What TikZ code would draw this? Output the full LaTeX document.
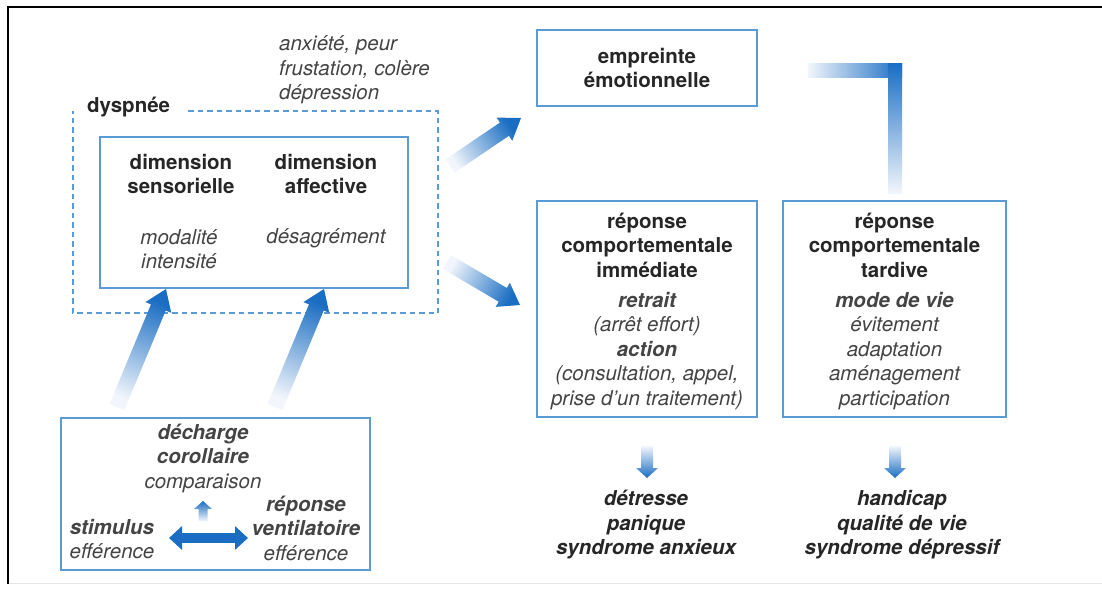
\documentclass[tikz,border=0pt]{standalone}
\usepackage{fontspec}
\setmainfont{TeX Gyre Heros}
\usetikzlibrary{arrows.meta,calc}
\definecolor{boxblue}{HTML}{5B9BD5}
\definecolor{arrowdark}{HTML}{1A6DC2}
\definecolor{arrowlight}{HTML}{F2F6FC}
\definecolor{txtdark}{HTML}{262626}
\definecolor{txtgray}{HTML}{444444}
\newcommand\fs{\fontsize{20.5}{24.5}\selectfont}
\newcommand\fatarrow[5]{%
  \path (#1); \pgfgetlastxy{\fax}{\fay}%
  \path (#2); \pgfgetlastxy{\fbx}{\fby}%
  \pgfmathsetmacro\faang{atan2(\fby-\fay,\fbx-\fax)}%
  \pgfmathsetmacro\falen{veclen(\fbx-\fax,\fby-\fay)}%
  \pgfmathsetmacro\faneck{\falen-#5}%
  \pgfmathsetmacro\fash{\faang-90}%
  \shade[bottom color=arrowlight, top color=arrowdark, shading angle=\fash, shift={(#1)}, rotate=\faang]
    (0pt,#3pt) -- (\faneck pt,#3pt) -- (\faneck pt,#4pt) -- (\falen pt,0pt) -- (\faneck pt,-#4pt) -- (\faneck pt,-#3pt) -- (0pt,-#3pt) -- cycle;}
\tikzset{
  box/.style={draw=boxblue, line width=1.4pt, inner sep=0pt},
  bt/.style={font=\fs\bfseries, text=txtdark, align=center, inner sep=0pt},
  itx/.style={font=\fs\itshape, text=txtgray, align=center, inner sep=0pt},
  bit/.style={font=\fs\bfseries\itshape, text=txtdark, align=center, inner sep=0pt},
}
\begin{document}
\begin{tikzpicture}[x=1pt,y=-1pt]
\useasboundingbox (0,0) rectangle (1102,589);
% frame
\draw[line width=2.2pt] (8,584) -- (8,7) -- (1102,7);
\draw[gray!20, line width=0.8pt] (9,583) -- (1102,583);
% dashed dyspnee box
\draw[boxblue, line width=1.4pt, dash pattern=on 5.5pt off 4pt] (188,111) -- (438,111) -- (438,313) -- (73,313) -- (73,111);
\node[bt, anchor=west] (dysp) at (87,107) {dyspnée};
% boxes
\node[box, minimum width=308pt, minimum height=151pt] (dim) at (254,212.5) {};
\node[box, minimum width=220pt, minimum height=76pt] (emp) at (647,68) {};
\node[box, minimum width=220pt, minimum height=216pt] (imm) at (647,309) {};
\node[box, minimum width=223pt, minimum height=216pt] (tard) at (894.5,309) {};
\node[box, minimum width=309pt, minimum height=152pt] (low) at (215.5,494) {};
% texts
\node[itx, align=left, anchor=west] (emo) at (279,70) {anxiété, peur\\frustation, colère\\dépression};
\node[bt] (ds) at (181,174) {dimension\\sensorielle};
\node[bt] (da) at (326,174) {dimension\\affective};
\node[itx] (mi) at (179,249) {modalité\\intensité};
\node[itx] (de) at (326,238) {désagrément};
\node[bt] at (emp.center) {empreinte\\émotionnelle};
\node[bt] (rimm) at (647,245) {réponse\\comportementale\\immédiate};
\node[itx] (rimm2) at (647,351) {\textbf{retrait}\\(arrêt effort)\\\textbf{action}\\(consultation, appel,\\prise d’un traitement)};
\node[bt] (rtard) at (894.5,245) {réponse\\comportementale\\tardive};
\node[itx] (rtard2) at (894.5,351) {\textbf{mode de vie}\\évitement\\adaptation\\aménagement\\participation};
\node[bit] (detr) at (646,525) {détresse\\panique\\syndrome anxieux};
\node[bit] (hand) at (902,525) {handicap\\qualité de vie\\syndrome dépressif};
\node[itx] (dech) at (203,458) {\textbf{décharge}\\\textbf{corollaire}\\comparaison};
\node[itx] (stim) at (112,539) {\textbf{stimulus}\\efférence};
\node[itx] (vent) at (306,528) {\textbf{réponse}\\\textbf{ventilatoire}\\efférence};
% arrow end points
\coordinate (u1t) at (450,166); \coordinate (u1h) at (521,118);
\coordinate (u2t) at (447,262); \coordinate (u2h) at (520,305);
\coordinate (v1t) at (117,407); \coordinate (v1h) at (166,289);
\coordinate (v2t) at (275,407); \coordinate (v2h) at (324,289);
\coordinate (d1t) at (647,446); \coordinate (d1h) at (647,478);
\coordinate (d2t) at (895,446); \coordinate (d2h) at (895,478);
\coordinate (s1t) at (203,521); \coordinate (s1h) at (203,501);
\fatarrow{u1t}{u1h}{8}{14}{20}
\fatarrow{u2t}{u2h}{8}{14}{20}
\fatarrow{v1t}{v1h}{8}{14}{20}
\fatarrow{v2t}{v2h}{8}{14}{20}
\fatarrow{d1t}{d1h}{6}{11}{10}
\fatarrow{d2t}{d2h}{6}{11}{10}
\fatarrow{s1t}{s1h}{4.5}{9}{8}
% double arrow
\coordinate (dxa) at (169,538); \coordinate (dxb) at (248,538);
\draw[arrowdark, line width=10pt, {Triangle[width=23pt,length=13pt]}-{Triangle[width=23pt,length=13pt]}] (dxa) -- (dxb);
% L bar
\shade[left color=arrowlight, right color=arrowdark] (808,63) rectangle (902,77);
\shade[top color=arrowdark, bottom color=arrowlight] (888,63) rectangle (902,193);
\end{tikzpicture}
\end{document}
